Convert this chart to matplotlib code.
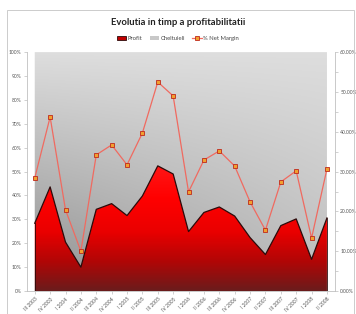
import numpy as np
import matplotlib
matplotlib.use("Agg")
from matplotlib import pyplot as plt
from matplotlib.colors import LinearSegmentedColormap
from matplotlib.patches import Polygon, Patch, Rectangle
from matplotlib.lines import Line2D
from matplotlib.ticker import FixedLocator

plt.rcParams['font.family'] = ['Lato', 'DejaVu Sans']

quarters = ["III 2003", "IV 2003", "I 2004", "II 2004", "III 2004", "IV 2004",
            "I 2005", "II 2005", "III 2005", "IV 2005", "I 2006", "II 2006",
            "III 2006", "IV 2006", "I 2007", "II 2007", "III 2007", "IV 2007",
            "I 2008", "II 2008"]
# share of revenue (%), stacked to 100
profit = [28.4, 43.6, 20.5, 10.0, 34.2, 36.6, 31.6, 39.8, 52.4, 49.0,
          24.9, 32.9, 35.2, 31.4, 22.4, 15.3, 27.4, 30.2, 13.3, 30.6]
cheltuieli = [100 - p for p in profit]
net_margin = [28.4, 43.7, 20.4, 10.0, 34.2, 36.7, 31.7, 39.7, 52.5, 49.0,
              24.9, 32.9, 35.2, 31.4, 22.4, 15.3, 27.4, 30.2, 13.3, 30.7]

x = np.arange(len(quarters))
stack_top = [p + c for p, c in zip(profit, cheltuieli)]

fig = plt.figure(figsize=(3.56, 3.14), dpi=100)
ax = fig.add_axes([0.076, 0.073, 0.864, 0.761])
ax.set_xlim(-0.5, len(quarters) - 0.5)
ax.set_ylim(0, 100)

# gray (Cheltuieli) gradient, darker bottom-left, lighter top-right
ny, nx = 200, 300
t = np.linspace(0, 1, ny)[:, None]
s = np.linspace(0, 1, nx)[None, :]
v = 0.87 - 0.32 * (1 - t) * (1 - 0.6 * s)
gray_img = np.dstack([v, v, v])
im_gray = ax.imshow(gray_img, extent=[-0.5, len(quarters) - 0.5, 0, 100],
                    origin='lower', aspect='auto', zorder=1)
gray_poly = Polygon(list(zip(x, stack_top)) + list(zip(x[::-1], profit[::-1])),
                    closed=True, facecolor='none', edgecolor='none')
ax.add_patch(gray_poly)
im_gray.set_clip_path(gray_poly)

# red (Profit) gradient
red_cmap = LinearSegmentedColormap.from_list(
    'reds', [(0.0, '#6a1c1c'), (0.22, '#b00606'), (0.45, '#ea0000'),
             (0.7, '#ff0000'), (1.0, '#ff1a1a')])
grad = np.linspace(0, 1, 256)[:, None] * np.ones((1, 10))
im_red = ax.imshow(grad, extent=[-0.5, len(quarters) - 0.5, 0, 55],
                   origin='lower', aspect='auto', cmap=red_cmap, zorder=2)
red_poly = Polygon(list(zip(x, profit)) + [(x[-1], 0), (x[0], 0)],
                   closed=True, facecolor='none', edgecolor='none')
ax.add_patch(red_poly)
im_red.set_clip_path(red_poly)
ax.plot(x, profit, color='#2a0a0a', lw=0.9, zorder=3)
ax.plot([x[0], x[0]], [0, profit[0]], color='#2a0a0a', lw=0.6, zorder=3)
ax.plot([x[-1], x[-1]], [0, profit[-1]], color='#2a0a0a', lw=0.6, zorder=3)
ax.set_ylim(0, 100)

ax.set_yticks(range(0, 101, 10))
ax.set_yticklabels([f"{v}%" for v in range(0, 101, 10)])
ax.set_xticks(x)
ax.set_xticklabels(quarters, rotation=45, ha='right', rotation_mode='anchor')
ax.tick_params(axis='both', labelsize=3.6, colors='#bdbdbd', labelcolor='#555555',
               length=2.5, width=0.5, pad=1.5)
for side in ['left', 'bottom']:
    ax.spines[side].set_color('#c0c0c0')
    ax.spines[side].set_linewidth(0.6)
ax.spines['top'].set_visible(False)
ax.spines['right'].set_visible(False)

ax2 = ax.twinx()
ax2.set_ylim(0, 60)
ax2.plot(x, net_margin, color='#f06a60', lw=0.9, marker='s', markersize=2.4,
         markerfacecolor='#f0a030', markeredgecolor='#c0281a', markeredgewidth=0.6,
         zorder=5)
ax2.set_yticks(range(0, 61, 10))
ax2.set_yticklabels([f"{v:.2f}%" for v in range(0, 61, 10)])
ax2.yaxis.set_minor_locator(FixedLocator(range(5, 60, 10)))
ax2.tick_params(axis='y', which='both', labelsize=3.6, colors='#bdbdbd',
                labelcolor='#555555', length=2.5, width=0.5, pad=1.5)
ax2.spines['right'].set_color('#c0c0c0')
ax2.spines['right'].set_linewidth(0.6)
for side in ['left', 'top', 'bottom']:
    ax2.spines[side].set_visible(False)

fig.text(0.5, 0.928, "Evolutia in timp a profitabilitatii", ha='center', va='center',
         fontsize=6.8, fontweight='bold', color='#222222')

handles = [Patch(facecolor='#c00000', edgecolor='#2a0a0a', linewidth=0.6),
           Patch(facecolor='#c8c8c8', edgecolor='none'),
           Line2D([], [], color='#f06a60', lw=0.9, marker='s', markersize=2.4,
                  markerfacecolor='#f0a030', markeredgecolor='#c0281a',
                  markeredgewidth=0.6)]
fig.legend(handles, ["Profit", "Cheltuieli", "% Net Margin"], loc='center',
           bbox_to_anchor=(0.5, 0.878), ncol=3, frameon=False, fontsize=4.2,
           handlelength=1.6, handleheight=0.6, handletextpad=0.3, columnspacing=1.2,
           labelcolor='#444444')

fig.patches.append(Rectangle((0.02, -0.01), 0.975, 0.978, transform=fig.transFigure,
                             fill=False, edgecolor='#cccccc', linewidth=0.7))

fig.savefig("out.png", dpi=100)
